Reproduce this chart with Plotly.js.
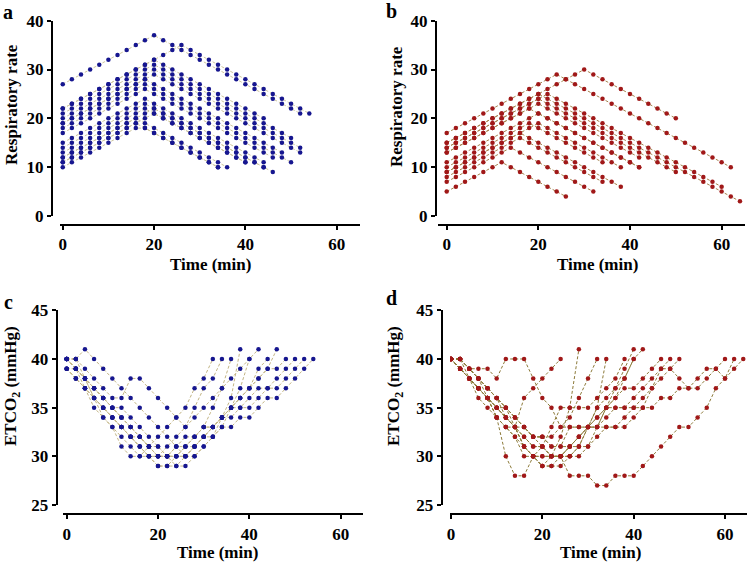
<!DOCTYPE html>
<html><head><meta charset="utf-8">
<script src="https://cdn.plot.ly/plotly-3.0.1.min.js"></script>
<style>html,body{margin:0;padding:0;background:#fff}#chart{width:750px;height:562px}</style>
</head><body><div id="chart"></div>
<script>
// Shared sampling times (min)
var T = [0,2,4,6,8,10,12,14,16,18,20,22,24,26,28,30,32,34,36,38,40,42,44,46,48,50,52,54,56,58,60,62,64];

// Panel a: respiratory rate, group 1 (blue)
var a1 = [27,28,29,30,31,32,33,34,35,36,37,36,35,34,33,32,31,30,29,28,27,26,25,24,23,22,21];
var a2 = [22,23,24,25,26,27,28,29,30,31,32,33,34,35,34,33,32,31,30,29,28,27,26,25,24,23,22,21];
var a3 = [22,23,24,25,26,27,28,29,30,31,32,31,30,29,28,27,26,25,24,23,22,21,20];
var a4 = [20,21,22,23,24,25,26,27,28,29,30,29,28,27,26,25,24,23,22,21,20,19,18,17,16,15,14];
var a5 = [21,22,23,24,25,26,27,28,29,30,31,30,29,28,27,26,25,24,23,22,21,20,19,18,17,16];
var a6 = [19,20,21,22,23,24,25,26,27,28,27,26,25,24,23,22,21,20,19,18,17,16,15,14,13];
var a7 = [18,19,20,21,22,23,24,25,26,27,26,25,24,23,22,21,20,19,18,17,16,15,14,13,12,11];
var a8 = [17,18,19,20,21,22,23,24,25,26,25,24,23,22,21,20,19,18,17,16,15,14,13,12];
var a9 = [15,16,17,18,19,20,21,22,23,24,23,22,21,20,19,18,17,16,15,14,13,12,11];
var a10 = [14,15,16,17,18,19,20,21,22,23,22,21,20,19,18,17,16,15,14,13,12,11,10];
var a11 = [12,13,14,15,16,17,18,19,20,21,22,21,20,19,18,17,16,15,14,13,12,11,10,9];
var a12 = [12,13,14,15,16,17,18,19,20,19,18,17,16,15,14,13,12,11,10];
var a13 = [11,12,13,14,15,16,17,18,19,18,17,16,15,14,13,12,11,10];
var a14 = [10,11,12,13,14,15,16,17,18,18,17,16,15,14,13,12,11,10];
var a15 = [19,20,21,22,23,24,25,26,27,28,29,28,27,26,25,24,23,22,21,20,19,18,17,16,15,14,13];
var a16 = [11,12,13,14,15,16,17,18,19,20,21,20,19,18,17,16,15,14,13,12,11];
var a17 = [13,14,15,16,17,18,19,20,21,22,21,20,19,18,17,16,15,14,13,12,11];

// Panel b: respiratory rate, group 2 (red)
var b1 = [17,18,19,20,21,22,23,24,25,26,27,28,29,28,27,26,25,24,23,22,21,20,19,18,17,16,15,14,13,12,11,10];
var b2 = [15,16,17,18,19,20,21,22,23,24,25,26,27,28,29,30,29,28,27,26,25,24,23,22,21,20];
var b3 = [15,16,17,18,19,20,21,22,23,24,25,24,23,22,21,20,19,18,17,16,15,14,13,12,11,10,9,8,7,6,5,4,3];
var b4 = [5,6,7,8,9,10,11,10,9,8,7,6,5,4];
var b5 = [7,8,9,10,11,12,13,14,13,12,11,10,9,8,7,6,5];
var b6 = [8,9,10,11,12,13,14,15,16,15,14,13,12,11,10,9,8,7];
var b7 = [9,10,11,12,13,14,15,16,17,16,15,14,13,12,11,10,9,8,7,6];
var b8 = [10,11,12,13,14,15,16,17,18,19,18,17,16,15,14,13,12,11];
var b9 = [11,12,13,14,15,16,17,18,19,20,21,20,19,18,17,16,15,14,13,12,11,10];
var b10 = [13,14,15,16,17,18,19,20,21,22,23,22,21,20,19,18,17,16,15,14,13,12];
var b11 = [14,15,16,17,18,19,20,21,22,23,24,23,22,21,20,19,18,17,16,15,14,13,12,11,10,9];
var b12 = [14,15,16,17,18,19,20,21,22,23,24,25,24,23,22,21,20,19,18,17,16,15,14,13,12,11,10,9,8,7,6];
var b13 = [9,10,11,12,13,14,15,16,17,18,19,18,17,16,15,14,13,12,11,10];
var b14 = [13,14,15,16,17,18,19,20,21,22,21,20,19,18,17,16,15,14,13,12,11,10];

// Panel c: ETCO2, group 1 (blue)
var c1 = [40,39,37,35,34,33,31,30,30,31,32,33,34,35,37,38,40];
var c2 = [40,40,38,36,34,33,32,31,30,30,30,31,32,33,35,37,38,40];
var c3 = [39,39,38,36,35,34,33,32,31,30,30,30,30,31,32,33,35,37,40];
var c4 = [40,40,41,40,39,38,37,36,35,34,33,32,31,30,30,31,32,34,36,41];
var c5 = [40,39,38,37,36,35,35,34,33,32,31,30,29,29,30,31,32,33,35,37,40];
var c6 = [40,40,39,38,37,36,36,38,38,37,36,35,34,33,34,35,36,37,38,39,40,41];
var c7 = [39,38,37,36,35,34,33,32,31,30,29,29,29,30,31,32,33,34,35,36,37,39,40];
var c8 = [40,39,38,37,36,35,34,33,32,31,30,30,30,30,31,32,33,34,35,36,37,38,39,41];
var c9 = [40,39,38,37,36,35,34,33,32,31,31,30,30,31,31,32,33,34,35,36,37,38,39,39,40];
var c10 = [39,38,37,36,35,34,33,32,32,31,30,30,31,31,32,33,33,34,35,35,36,37,37,38,39,40];
var c11 = [40,39,38,37,36,35,34,33,32,31,30,30,31,32,32,33,33,34,34,35,35,36,37,37,38,39,40];
var c12 = [39,38,37,36,35,34,33,32,31,30,29,29,30,30,31,32,32,33,33,34,34,35,36,36,37,38,39,40];

// Panel d: ETCO2, group 2 (red)
var d1 = [40,40,38,37,36,35,34,33,31,30,29,30,32,35,41];
var d2 = [40,40,39,39,39,38,40,40,40,38,36,35,33,34,36,38,40];
var d3 = [40,39,38,37,36,34,33,32,30,30,30,30,30,30,31,33,35,40];
var d4 = [40,40,39,38,37,36,34,33,31,30,29,29,29,30,31,33,35,36,37,39,41];
var d5 = [40,39,38,37,36,35,35,33,32,31,31,30,30,30,30,31,33,35,37,38,40,41];
var d6 = [40,40,39,38,37,36,35,34,33,32,32,31,31,33,33,33,33,35,36,38,40];
var d7 = [40,39,38,37,36,34,30,28,28,30,31,33,35,35,35,35,36,37,38,40];
var d8 = [40,39,38,37,36,35,34,33,32,31,31,30,30,28,28,28,27,27,28,28,28,29,30,31,32,33,33,34,35,37,38,40];
var d9 = [40,40,39,38,37,36,35,34,33,32,32,31,31,31,31,31,32,33,33,34,35,35,35,36,36,37,37,38,39,39,38,39,40];
var d10 = [40,39,38,37,36,35,34,33,33,32,32,32,33,33,33,33,33,34,35,35,36,37,38,39,39,38,37,37,38,39,40];
var d11 = [40,39,38,37,36,34,33,32,31,30,30,30,30,31,32,33,34,35,35,35,35,36,37,38,39,40];
var d12 = [40,40,39,38,37,36,35,34,33,32,31,30,30,31,32,33,33,33,33,33,34,35,37,39,40];
var d13 = [40,40,39,38,36,35,34,33,31,30,29,29,30,31,32,33,34,35,36,37,37,38,39,40];
var d14 = [40,39,38,36,35,34,33,33,36,37,38,39,40];

var panels = [
  {series:[a1,a2,a3,a4,a5,a6,a7,a8,a9,a10,a11,a12,a13,a14,a15,a16,a17], xa:'x', ya:'y', mk:'#16168f', ln:'#cdc59c'},
  {series:[b1,b2,b3,b4,b5,b6,b7,b8,b9,b10,b11,b12,b13,b14], xa:'x2', ya:'y2', mk:'#a01818', ln:'#a4824e'},
  {series:[c1,c2,c3,c4,c5,c6,c7,c8,c9,c10,c11,c12], xa:'x3', ya:'y3', mk:'#16168f', ln:'#c3b585'},
  {series:[d1,d2,d3,d4,d5,d6,d7,d8,d9,d10,d11,d12,d13,d14], xa:'x4', ya:'y4', mk:'#a01818', ln:'#8c7a3a'}
];

var traces = [];
panels.forEach(function(p){
  p.series.forEach(function(s){
    traces.push({x:T.slice(0,s.length), y:s, xaxis:p.xa, yaxis:p.ya, type:'scatter', mode:'lines',
      line:{color:p.ln, width:1, dash:'3px,2px'}, hoverinfo:'skip', showlegend:false});
  });
});
panels.forEach(function(p){
  p.series.forEach(function(s){
    traces.push({x:T.slice(0,s.length), y:s, xaxis:p.xa, yaxis:p.ya, type:'scatter', mode:'markers',
      marker:{color:p.mk, size:4.5}, showlegend:false});
  });
});

var W = 750, H = 562;
function fx(px){return px/W;}
function fy(px){return 1 - px/H;}
var FAM = 'Liberation Serif, Times New Roman, serif';
var tf = {family:FAM, size:17, color:'#000', weight:'bold'};
function xax(l, r, r0, r1, ypos){
  return {domain:[fx(l), fx(r)], range:[r0, r1], anchor:'free', position:fy(ypos),
    tickvals:[0,20,40,60], ticktext:['0','20','40','60'], showgrid:false, zeroline:false,
    showline:true, linecolor:'#000', linewidth:2, ticks:'outside', ticklen:4, tickwidth:2, tickcolor:'#000',
    tickfont:tf, automargin:false, fixedrange:true};
}
function yax(top, bot, r0, r1, xpos, tv){
  return {domain:[fy(bot), fy(top)], range:[r0, r1], anchor:'free', position:fx(xpos),
    tickvals:tv, ticktext:tv.map(String), showgrid:false, zeroline:false,
    showline:true, linecolor:'#000', linewidth:2, ticks:'outside', ticklen:4, tickwidth:2, tickcolor:'#000',
    tickfont:tf, automargin:false, fixedrange:true};
}

function ann(text, x, y, angle, size){
  return {text:text, xref:'paper', yref:'paper', x:fx(x), y:fy(y), xanchor:'center', yanchor:'middle',
    showarrow:false, textangle:angle||0, font:{family:FAM, size:size||17, color:'#000', weight:'bold'}};
}

var layout = {
  width:W, height:H, margin:{l:0,r:0,t:0,b:0}, paper_bgcolor:'#fff', plot_bgcolor:'rgba(0,0,0,0)',
  showlegend:false,
  xaxis: xax(60, 360, -0.6, 65.1, 225),
  yaxis: yax(20.7, 216, 0, 40, 52, [0,10,20,30,40]),
  xaxis2: xax(438.3, 745, -1.83, 65.1, 225),
  yaxis2: yax(20.7, 216, 0, 40, 436, [0,10,20,30,40]),
  xaxis3: xax(63.3, 363.3, -0.74, 64.95, 514.3),
  yaxis3: yax(310.3, 505, 25, 45, 56.7, [25,30,35,40,45]),
  xaxis4: xax(450, 746.7, -0.22, 64.75, 514.3),
  yaxis4: yax(310.3, 505, 25, 45, 441.7, [25,30,35,40,45]),
  annotations: [
    ann('a', 8, 12, 0, 20), ann('b', 392, 11, 0, 20), ann('c', 8, 302, 0, 20), ann('d', 392, 298, 0, 20),
    ann('Respiratory rate', 11, 105, -90), ann('Respiratory rate', 396, 107, -90),
    ann('ETCO<sub>2</sub> (mmHg)', 12, 386, -90), ann('ETCO<sub>2</sub> (mmHg)', 395, 386, -90),
    ann('Time (min)', 210, 264), ann('Time (min)', 597, 264),
    ann('Time (min)', 217, 552), ann('Time (min)', 600, 552)
  ]
};

Plotly.newPlot('chart', traces, layout, {staticPlot:true, displayModeBar:false});
</script>
</body></html>
